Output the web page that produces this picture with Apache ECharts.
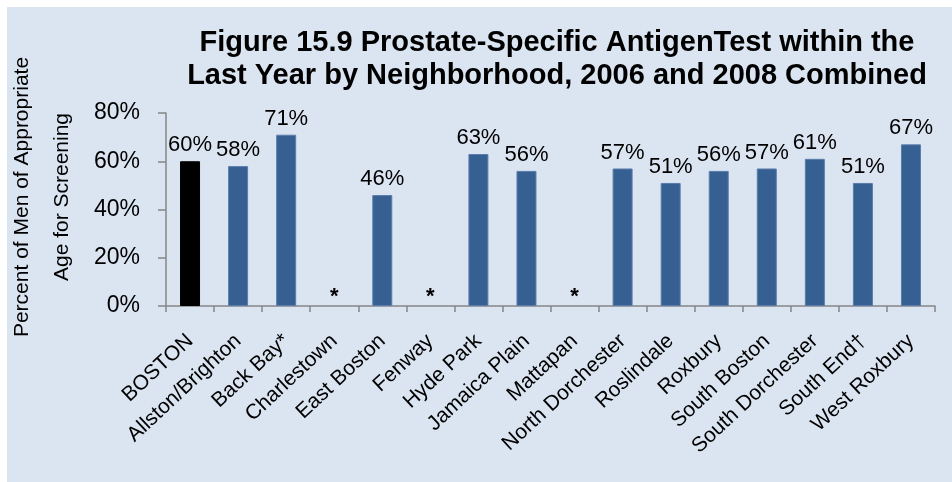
<!DOCTYPE html>
<html>
<head>
<meta charset="utf-8">
<script src="https://cdn.jsdelivr.net/npm/echarts@6/dist/echarts.min.js"></script>
<style>
html,body{margin:0;padding:0;background:#ffffff;}
#wrap{position:absolute;left:7px;top:7px;width:945px;height:475px;background:#DBE5F1;}
#chart{position:absolute;left:-7px;top:-7px;width:952px;height:482px;}
</style>
</head>
<body>
<div id="wrap"><div id="chart"></div></div>
<script>
const titleLines = ["Figure 15.9 Prostate-Specific AntigenTest within the", "Last Year by Neighborhood, 2006 and 2008 Combined"];
const yAxisTitleLines = ["Percent of Men of Appropriate", "Age for Screening"];
const categories = ["BOSTON", "Allston/Brighton", "Back Bay*", "Charlestown", "East Boston", "Fenway", "Hyde Park", "Jamaica Plain", "Mattapan", "North Dorchester", "Roslindale", "Roxbury", "South Boston", "South Dorchester", "South End\u2020", "West Roxbury"];
// percent values; null = suppressed (shown as *)
const values = [60, 58, 71, null, 46, null, 63, 56, null, 57, 51, 56, 57, 61, 51, 67];
const highlightCategory = "BOSTON";
const suppressedMark = "*";
const yTicks = [0, 20, 40, 60, 80];

const chart = echarts.init(document.getElementById('chart'), null, {renderer: 'canvas'});

const barData = values.map((v, i) => {
  if (v === null) {
    return {
      value: 0,
      itemStyle: {color: 'rgba(0,0,0,0)', borderWidth: 0},
      label: {show: true, formatter: suppressedMark, fontSize: 22, fontWeight: 'bold', distance: -2}
    };
  }
  const isHi = categories[i] === highlightCategory;
  return {
    value: v,
    itemStyle: isHi ? {color: '#000000', borderColor: '#000000'} : {}
  };
});

const option = {
  backgroundColor: 'transparent',
  animation: false,
  textStyle: {fontFamily: 'Liberation Sans, Arial, sans-serif', color: '#000'},
  title: {
    text: titleLines.join('\n'),
    left: 552,
    textAlign: 'center',
    top: 21,
    textStyle: {fontSize: 29, fontWeight: 'bold', lineHeight: 33, color: '#000', fontFamily: 'Liberation Sans, Arial, sans-serif'}
  },
  graphic: [{
    type: 'text',
    x: 42,
    y: 197,
    rotation: Math.PI / 2,
    style: {
      text: yAxisTitleLines.join('\n'),
      font: '21px "Liberation Sans", Arial, sans-serif',
      textAlign: 'center',
      textVerticalAlign: 'middle',
      lineHeight: 40,
      fill: '#000'
    }
  }],
  grid: {left: 166, right: 17, top: 113, bottom: 176, containLabel: false},
  xAxis: {
    type: 'category',
    data: categories,
    axisLine: {lineStyle: {color: '#868686', width: 1.5}},
    axisTick: {show: true, length: 6, lineStyle: {color: '#868686', width: 1.5}},
    axisLabel: {rotate: 43, fontSize: 21, color: '#000', margin: 32, interval: 0, fontFamily: 'Liberation Sans, Arial, sans-serif'}
  },
  yAxis: {
    type: 'value',
    min: yTicks[0],
    max: yTicks[yTicks.length - 1],
    interval: 20,
    axisLine: {show: true, lineStyle: {color: '#868686', width: 1.5}},
    axisTick: {show: true, length: 8, lineStyle: {color: '#868686', width: 1.5}},
    splitLine: {show: false},
    axisLabel: {formatter: '{value}%', fontSize: 23, color: '#000', margin: 26, fontFamily: 'Liberation Sans, Arial, sans-serif'}
  },
  series: [{
    type: 'bar',
    data: barData,
    barWidth: 20,
    itemStyle: {color: '#366092', borderColor: '#5B7DAD', borderWidth: 1},
    label: {
      show: true,
      position: 'top',
      distance: 5,
      formatter: p => p.value + '%',
      fontSize: 22,
      color: '#000',
      fontFamily: 'Liberation Sans, Arial, sans-serif'
    }
  }]
};
chart.setOption(option);
</script>
</body>
</html>
